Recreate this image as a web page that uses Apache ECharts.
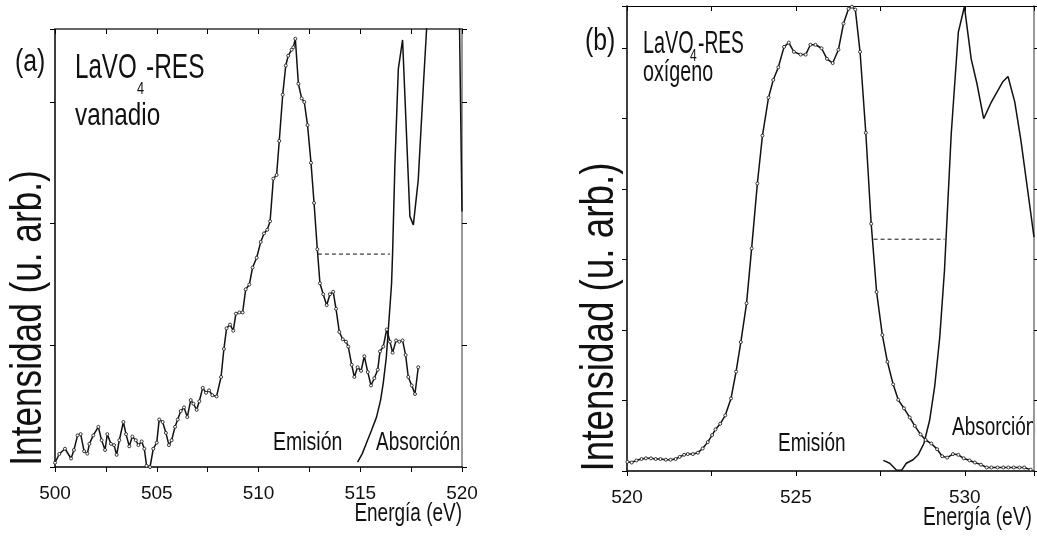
<!DOCTYPE html>
<html>
<head>
<meta charset="utf-8">
<script src="https://cdn.jsdelivr.net/npm/echarts@6/dist/echarts.min.js"></script>
<style>
  html, body { margin: 0; padding: 0; background: #fff; }
  #chart { width: 1037px; height: 538px; }
</style>
</head>
<body>
<div id="chart"></div>
<script>
// (a) vanadio: emision (puntos) y absorcion
const emisionA = [
  [500.0, 0.035], [500.21, 0.107], [500.49, 0.15], [500.79, 0.07], [500.93, 0.14],
  [501.11, 0.26], [501.26, 0.27], [501.43, 0.13], [501.59, 0.11], [501.69, 0.19],
  [501.88, 0.26], [502.13, 0.33], [502.29, 0.22], [502.46, 0.14], [502.57, 0.27],
  [502.75, 0.19], [502.9, 0.18], [503.03, 0.10], [503.16, 0.22], [503.36, 0.37],
  [503.49, 0.27], [503.65, 0.17], [503.8, 0.25], [503.97, 0.22], [504.1, 0.18],
  [504.26, 0.21], [504.39, 0.15], [504.5, 0.01], [504.67, 0.0], [504.83, 0.15],
  [505.0, 0.2], [505.12, 0.39], [505.29, 0.37], [505.45, 0.28], [505.6, 0.18],
  [505.73, 0.22], [505.9, 0.33], [506.03, 0.39], [506.18, 0.46], [506.34, 0.49],
  [506.5, 0.41], [506.67, 0.55], [506.8, 0.52], [506.96, 0.47], [507.09, 0.54],
  [507.26, 0.65], [507.42, 0.61], [507.57, 0.63], [507.73, 0.59], [507.94, 0.58],
  [508.16, 0.74], [508.3, 0.97], [508.43, 1.14], [508.6, 1.17], [508.76, 1.12],
  [508.89, 1.26], [509.06, 1.27], [509.22, 1.27], [509.37, 1.46], [509.55, 1.5],
  [509.71, 1.64], [509.91, 1.72], [510.11, 1.85], [510.27, 1.92], [510.43, 1.95],
  [510.57, 2.02], [510.73, 2.37], [510.89, 2.40], [511.02, 2.68], [511.19, 3.06],
  [511.34, 3.30], [511.46, 3.38], [511.63, 3.43], [511.71, 3.45], [511.81, 3.52],
  [511.96, 3.15], [512.12, 3.03], [512.25, 3.0], [512.41, 2.81], [512.58, 2.50],
  [512.73, 2.17], [512.89, 1.79], [513.02, 1.51], [513.18, 1.42], [513.35, 1.33],
  [513.51, 1.42], [513.67, 1.44], [513.81, 1.30], [513.97, 1.11], [514.14, 1.05],
  [514.3, 1.03], [514.41, 0.99], [514.58, 0.84], [514.71, 0.74], [514.87, 0.82],
  [515.04, 0.79], [515.2, 0.91], [515.37, 0.78], [515.53, 0.67], [515.69, 0.73],
  [515.86, 0.80], [515.97, 0.95], [516.13, 0.99], [516.3, 1.13], [516.46, 1.03],
  [516.59, 0.94], [516.76, 1.04], [516.92, 1.03], [517.08, 1.04], [517.23, 0.92],
  [517.36, 0.74], [517.53, 0.67], [517.69, 0.60], [517.85, 0.82]
];
const absorcionA = [
  [514.87, 0.04], [515.1, 0.11], [515.31, 0.2], [515.55, 0.3], [515.8, 0.41],
  [516.0, 0.55], [516.13, 0.69], [516.28, 0.9], [516.38, 1.13], [516.54, 1.51],
  [516.59, 1.76], [516.7, 2.47], [516.87, 3.27], [517.08, 3.51], [517.44, 2.06],
  [517.61, 1.99], [517.85, 2.36], [518.1, 3.13], [518.26, 3.6], [518.45, 4.4],
  [519.8, 4.4], [519.88, 3.6], [520.0, 2.1]
];
const guiaA = [[512.92, 1.75], [516.46, 1.75]];

// (b) oxigeno
const emisionB = [
  [520.01, 0.13], [520.14, 0.12], [520.28, 0.15], [520.43, 0.17], [520.56, 0.18],
  [520.71, 0.18], [520.85, 0.17], [520.99, 0.17], [521.15, 0.16], [521.29, 0.16],
  [521.44, 0.17], [521.56, 0.20], [521.69, 0.23], [521.8, 0.24], [521.95, 0.24],
  [522.1, 0.26], [522.24, 0.32], [522.39, 0.41], [522.52, 0.51], [522.62, 0.59],
  [522.76, 0.67], [522.91, 0.79], [523.08, 1.03], [523.23, 1.41], [523.37, 1.83],
  [523.54, 2.38], [523.69, 3.16], [523.86, 4.08], [524.01, 4.76], [524.19, 5.30],
  [524.33, 5.55], [524.48, 5.73], [524.65, 6.02], [524.79, 6.08], [524.94, 5.95],
  [525.14, 5.91], [525.29, 5.91], [525.43, 6.05], [525.58, 6.05], [525.76, 6.0],
  [525.92, 5.85], [526.09, 5.79], [526.26, 5.98], [526.41, 6.35], [526.56, 6.56],
  [526.66, 6.59], [526.76, 6.55], [526.9, 5.95], [527.07, 4.80], [527.23, 3.51],
  [527.39, 2.54], [527.56, 1.93], [527.71, 1.55], [527.88, 1.23], [528.03, 1.01],
  [528.2, 0.89], [528.37, 0.76], [528.52, 0.64], [528.69, 0.52], [528.84, 0.44],
  [529.01, 0.39], [529.18, 0.31], [529.33, 0.21], [529.48, 0.19], [529.65, 0.24],
  [529.81, 0.23], [529.97, 0.18], [530.14, 0.15], [530.3, 0.12], [530.48, 0.09],
  [530.65, 0.05], [530.79, 0.05], [530.97, 0.05], [531.14, 0.05], [531.29, 0.05],
  [531.45, 0.05], [531.62, 0.05], [531.76, 0.05], [531.95, 0.02]
];
const absorcionB = [
  [527.59, 0.15], [527.78, 0.11], [527.98, 0.01], [528.13, 0.01], [528.27, 0.11],
  [528.47, 0.16], [528.62, 0.23], [528.79, 0.39], [528.96, 0.72], [529.11, 1.2],
  [529.26, 1.9], [529.4, 2.85], [529.6, 4.79], [529.81, 6.23], [529.99, 6.59],
  [530.19, 5.85], [530.36, 5.5], [530.56, 5.0], [530.77, 5.22], [531.12, 5.52],
  [531.28, 5.60], [531.48, 5.24], [531.66, 4.70], [531.85, 4.03], [532.05, 3.32]
];
const guiaB = [[527.3, 3.29], [529.4, 3.29]];

const rangoA = [500, 520];
const rangoB = [520, 532.05];
const maxYA = 3.6;
const maxYB = 6.6;

const chart = echarts.init(document.getElementById('chart'));

const font = '"Liberation Sans", Arial, sans-serif';

// texto con compresion horizontal (la fuente original es estrecha)
const txt = (x, y, s, size, sx, extra) => {
  const el = {
    type: 'text', x: x, y: y, scaleX: sx, silent: true,
    style: { text: s, fontSize: size, fontFamily: font, fill: '#111', align: 'left', verticalAlign: 'middle' }
  };
  if (extra && extra.align) el.style.align = extra.align;
  if (extra && extra.rotation) el.rotation = extra.rotation;
  return el;
};

const ejeX = (grid, rango, pos) => ({
  gridIndex: grid, type: 'value', position: pos, min: rango[0], max: rango[1], interval: 2.5,
  axisLine: { onZero: false, lineStyle: { color: pos === 'bottom' ? '#000' : (grid === 0 ? '#666' : '#000'), width: pos === 'bottom' ? 1.5 : (grid === 0 ? 2 : 1) } },
  axisTick: { show: true, inside: pos === 'top', length: 5, lineStyle: { color: '#000' } },
  axisLabel: {
    show: pos === 'bottom', margin: 17, fontSize: 19, fontFamily: font, color: '#111',
    formatter: (v) => (v % 5 === 0 ? String(v) : '')
  },
  splitLine: { show: false }
});
const ejeY = (grid, max, pos) => ({
  gridIndex: grid, type: 'value', position: pos, min: 0, max: max, interval: 1,
  axisLine: { show: true, onZero: false, lineStyle: { color: pos === 'left' ? '#000' : '#999', width: pos === 'left' ? 1.5 : 2 } },
  axisTick: { show: true, inside: false, length: 5, lineStyle: { color: '#000' } },
  axisLabel: { show: false },
  splitLine: { show: false }
});

const linea = (xi, yi, data, puntos) => ({
  type: 'line', xAxisIndex: xi, yAxisIndex: yi, data: data,
  symbol: puntos ? 'circle' : 'none', symbolSize: 3, showSymbol: !!puntos,
  itemStyle: { color: '#fff', borderColor: '#222', borderWidth: 0.9 },
  lineStyle: { color: '#111', width: 1.5 },
  clip: true, silent: true, animation: false
});
const guia = (xi, yi, data) => ({
  type: 'line', xAxisIndex: xi, yAxisIndex: yi, data: data, symbol: 'none',
  lineStyle: { color: '#111', width: 1, type: [4, 3] }, silent: true, animation: false
});

chart.setOption({
  animation: false,
  grid: [
    { left: 55, top: 29, width: 407, height: 438 },
    { left: 627, top: 6, width: 409, height: 465 }
  ],
  xAxis: [ejeX(0, rangoA, 'bottom'), ejeX(0, rangoA, 'top'), ejeX(1, rangoB, 'bottom'), ejeX(1, rangoB, 'top')],
  yAxis: [ejeY(0, maxYA, 'left'), ejeY(0, maxYA, 'right'), ejeY(1, maxYB, 'left'), ejeY(1, maxYB, 'right')],
  series: [
    guia(0, 0, guiaA),
    linea(0, 0, absorcionA, false),
    linea(0, 0, emisionA, true),
    guia(2, 2, guiaB),
    linea(2, 2, absorcionB, false),
    linea(2, 2, emisionB, true)
  ],
  graphic: [
    // panel (a)
    txt(15, 62, '(a)', 31, 0.8),
    txt(75, 68, 'LaVO', 35, 0.69),
    txt(137, 89, '4', 17, 0.75),
    txt(146, 68, '-RES', 35, 0.7),
    txt(75, 116, 'vanadio', 32, 0.76),
    txt(273, 443, 'Emisión', 26, 0.75),
    txt(376, 443, 'Absorción', 26, 0.73),
    txt(462, 514, 'Energía (eV)', 26, 0.73, { align: 'right' }),
    txt(29, 318, 'Intensidad (u. arb.)', 44, 0.8, { align: 'center', rotation: Math.PI / 2 }),
    // panel (b)
    txt(585, 41, '(b)', 31, 0.8),
    txt(643, 44, 'LaVO', 31, 0.64),
    txt(690, 57, '4', 16, 0.75),
    txt(698, 44, '-RES', 31, 0.62),
    txt(643, 73, 'oxígeno', 29, 0.68),
    txt(778, 444, 'Emisión', 26, 0.73),
    txt(952, 428, 'Absorción', 26, 0.73),
    txt(1032, 518, 'Energía (eV)', 26, 0.74, { align: 'right' }),
    txt(600, 317, 'Intensidad (u. arb.)', 46, 0.8, { align: 'center', rotation: Math.PI / 2 })
  ]
});
</script>
</body>
</html>
